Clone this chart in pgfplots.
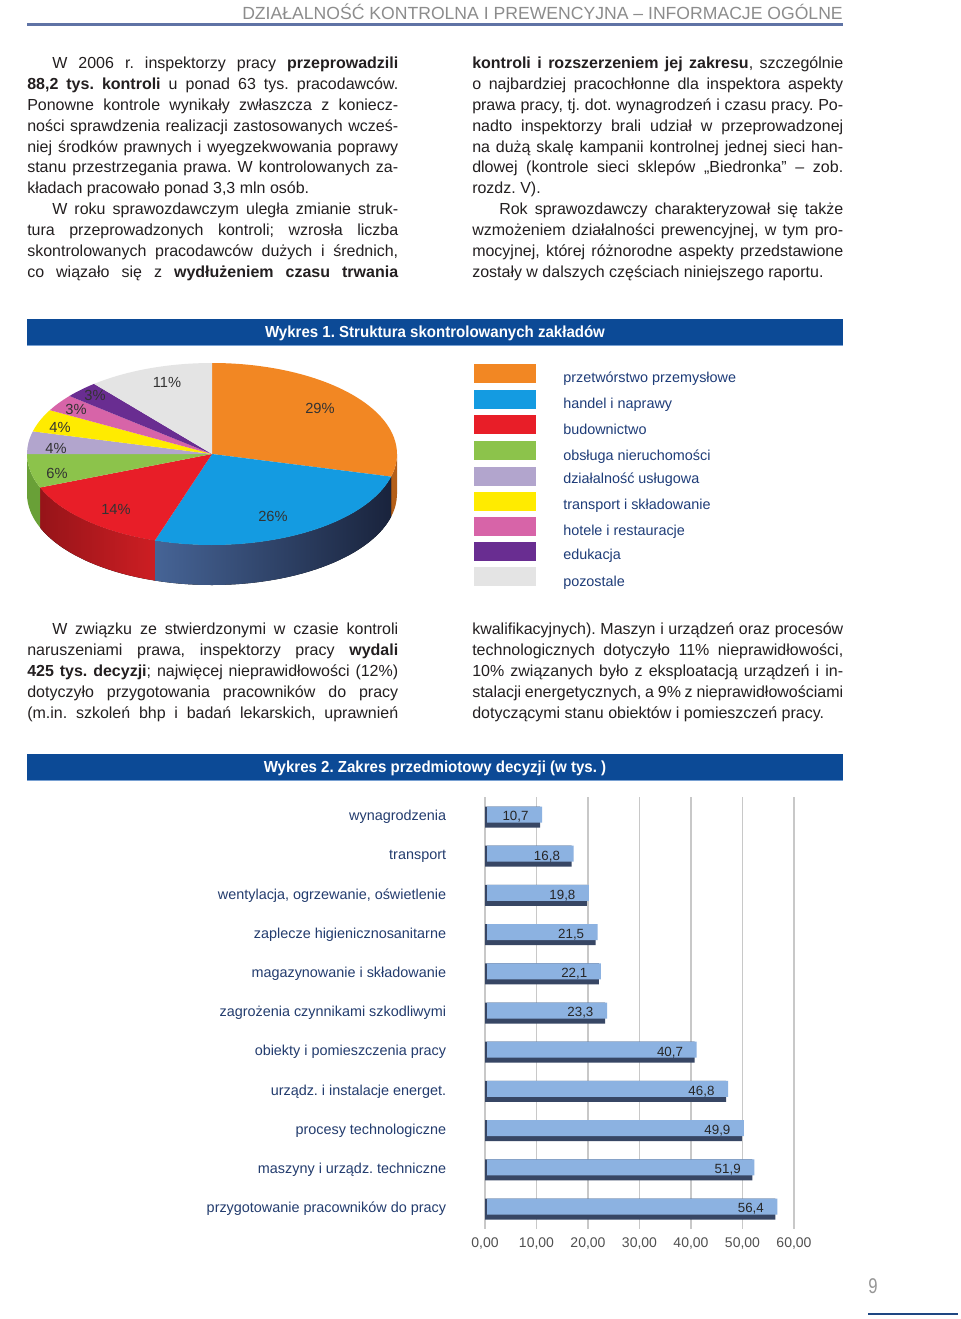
\documentclass[border=0pt]{standalone}
\usepackage{fontspec}
\setmainfont{Liberation Sans}
\newfontfamily\condfont[FakeStretch=0.94]{Liberation Sans}
\newfontfamily\numfont[FakeStretch=0.78]{Liberation Sans}
\usepackage{pgfplots}
\usepackage{pgfplotstable}
\pgfplotsset{compat=1.18}

\definecolor{bodyc}{RGB}{35,31,32}
\definecolor{headgray}{RGB}{140,140,140}
\definecolor{headline}{RGB}{95,115,165}
\definecolor{titlebg}{RGB}{12,74,150}
\definecolor{titleline}{RGB}{120,160,210}
\definecolor{legtext}{RGB}{30,60,120}
\definecolor{catc}{RGB}{35,60,110}
\definecolor{tickc}{RGB}{80,80,80}
\definecolor{gridc}{RGB}{200,200,200}
\definecolor{pieorange}{RGB}{242,135,35}
\definecolor{pieblue}{RGB}{20,155,225}
\definecolor{piered}{RGB}{232,30,40}
\definecolor{piegreen}{RGB}{140,195,75}
\definecolor{pielav}{RGB}{178,165,205}
\definecolor{pieyel}{RGB}{255,235,0}
\definecolor{piepink}{RGB}{215,100,168}
\definecolor{piepurple}{RGB}{105,45,145}
\definecolor{piegray}{RGB}{228,228,228}
\definecolor{sideorange}{RGB}{180,95,25}
\definecolor{sidebluel}{RGB}{70,100,150}
\definecolor{sidebluer}{RGB}{25,35,60}
\definecolor{sideredl}{RGB}{205,30,35}
\definecolor{sideredr}{RGB}{150,20,25}
\definecolor{sidegreen}{RGB}{105,160,55}
\definecolor{barlight}{RGB}{140,178,225}
\definecolor{bardark}{RGB}{55,70,100}
\definecolor{pagenum}{RGB}{150,150,150}
\definecolor{pageline}{RGB}{30,70,130}

\pgfplotstableread{
y v
0 56.4
1 51.9
2 49.9
3 46.8
4 40.7
5 23.3
6 22.1
7 21.5
8 19.8
9 16.8
10 10.7
}\bardata

\newcommand\bodyfont{\fontsize{12}{14}\selectfont}
\newcommand\JL[4]{\node[anchor=base west,inner sep=0pt,font=\bodyfont,text=bodyc] at (#1,-#2) {\makebox[#3pt][s]{#4}};}
\newcommand\LL[3]{\node[anchor=base west,inner sep=0pt,font=\bodyfont,text=bodyc] at (#1,-#2) {#3};}

% pie slices: start percent, percent, colour
\newcommand\pietop[3]{%
  \pgfmathsetmacro\pa{90-3.6*#1}%
  \pgfmathsetmacro\pb{90-3.6*(#1+#2)}%
  \edef\tmp{\noexpand\fill[#3] (axis cs:0,0) -- (axis cs:{cos(\pa)},{sin(\pa)}) arc[start angle=\pa, end angle=\pb, x radius=138.75pt, y radius=68.25pt] -- cycle;}%
  \tmp}
\newcommand\pieside[3]{%
  \pgfmathsetmacro\pa{min(90-3.6*#1,0)}%
  \pgfmathsetmacro\pb{max(90-3.6*(#1+#2),-180)}%
  \edef\tmp{\noexpand\fill[#3] (axis cs:{cos(\pa)},{sin(\pa)}) arc[start angle=\pa, end angle=\pb, x radius=138.75pt, y radius=68.25pt] -- ++(0pt,-30pt) arc[start angle=\pb, end angle=\pa, x radius=138.75pt, y radius=68.25pt] -- cycle;}%
  \tmp}

\newcommand\legrow[4]{% square centre, text baseline, colour, text
  \fill[#3] (474,{9.5-#1}) rectangle (536,{-9.5-#1});
  \node[anchor=base west,inner sep=0pt,font=\fontsize{10.8}{12}\selectfont,text=legtext] at (563,-#2) {#4};}

\newcommand\pielab[3]{\node[inner sep=0pt,font=\fontsize{11}{12}\selectfont,text=black!80] at (#1,-#2) {#3};}

\begin{document}
\frenchspacing
\begin{tikzpicture}[x=0.75pt,y=0.75pt]
\useasboundingbox (0,0) rectangle (960,-1319);
\fill[white] (0,0) rectangle (960,-1319);

% header
\node[anchor=base east,inner sep=0pt,font=\fontsize{13.2}{15}\selectfont,text=headgray] at (843,-19.5) {DZIAŁALNOŚĆ KONTROLNA I PREWENCYJNA – INFORMACJE OGÓLNE};
\draw[headline,line width=1.6pt] (27,-24.5) -- (843,-24.5);

% top text, left column
\JL{52}{69}{259.5}{W 2006 r. inspektorzy pracy \textbf{przeprowadzili}}
\JL{27}{89.8}{278.25}{\textbf{88,2 tys. kontroli} u ponad 63 tys. pracodawców.}
\JL{27}{110.6}{278.25}{Ponowne kontrole wynikały zwłaszcza z koniecz-}
\JL{27}{131.4}{278.25}{ności sprawdzenia realizacji zastosowanych wcześ-}
\JL{27}{152.2}{278.25}{niej środków prawnych i wyegzekwowania poprawy}
\JL{27}{173}{278.25}{stanu przestrzegania prawa. W kontrolowanych za-}
\LL{27}{193.8}{kładach pracowało ponad 3,3 mln osób.}
\JL{52}{214.6}{259.5}{W roku sprawozdawczym uległa zmianie struk-}
\JL{27}{235.4}{278.25}{tura przeprowadzonych kontroli; wzrosła liczba}
\JL{27}{256.2}{278.25}{skontrolowanych pracodawców dużych i średnich,}
\JL{27}{277}{278.25}{co wiązało się z \textbf{wydłużeniem czasu trwania}}

% top text, right column
\JL{472}{69}{278.25}{\textbf{kontroli i rozszerzeniem jej zakresu}, szczególnie}
\JL{472}{89.8}{278.25}{o najbardziej pracochłonne dla inspektora aspekty}
\JL{472}{110.6}{278.25}{prawa pracy, tj. dot. wynagrodzeń i czasu pracy. Po-}
\JL{472}{131.4}{278.25}{nadto inspektorzy brali udział w przeprowadzonej}
\JL{472}{152.2}{278.25}{na dużą skalę kampanii kontrolnej jednej sieci han-}
\JL{472}{173}{278.25}{dlowej (kontrole sieci sklepów „Biedronka” – zob.}
\LL{472}{193.8}{rozdz. V).}
\JL{499}{214.6}{258}{Rok sprawozdawczy charakteryzował się także}
\JL{472}{235.4}{278.25}{wzmożeniem działalności prewencyjnej, w tym pro-}
\JL{472}{256.2}{278.25}{mocyjnej, której różnorodne aspekty przedstawione}
\LL{472}{277}{zostały w dalszych częściach niniejszego raportu.}

% title bar 1
\fill[titlebg] (27,-319) rectangle (843,-345);
\draw[titleline,line width=0.75pt] (27,-345) -- (843,-345);
\node[anchor=base,inner sep=0pt,font=\condfont\bfseries\fontsize{12}{14}\selectfont,text=white] at (435,-337.5) {Wykres 1. Struktura skontrolowanych zakładów};

% pie chart
\coordinate (piec) at (212,-454);
\begin{axis}[at={(piec)},anchor=center,scale only axis,width=277.5pt,height=136.5pt,
  xmin=-1,xmax=1,ymin=-1,ymax=1,hide axis,clip=false]
  \addplot[draw=none] coordinates {(0,0)};
  \pieside{0}{29}{sideorange}
  \pieside{29}{26}{left color=sidebluel,right color=sidebluer}
  \pieside{55}{14}{left color=sideredr,right color=sideredl}
  \pieside{69}{6}{sidegreen}
  \pietop{0}{29}{pieorange}
  \pietop{29}{26}{pieblue}
  \pietop{55}{14}{piered}
  \pietop{69}{6}{piegreen}
  \pietop{75}{4}{pielav}
  \pietop{79}{4}{pieyel}
  \pietop{83}{3}{piepink}
  \pietop{86}{3}{piepurple}
  \pietop{89}{11}{piegray}
\end{axis}
\pielab{320}{408}{29\%}
\pielab{273}{516}{26\%}
\pielab{116}{509}{14\%}
\pielab{57}{473}{6\%}
\pielab{56}{448}{4\%}
\pielab{60}{427}{4\%}
\pielab{76}{409}{3\%}
\pielab{95}{395}{3\%}
\pielab{167}{382}{11\%}

% legend
\legrow{373}{382.5}{pieorange}{przetwórstwo przemysłowe}
\legrow{399}{408.5}{pieblue}{handel i naprawy}
\legrow{424}{434.5}{piered}{budownictwo}
\legrow{450}{460.5}{piegreen}{obsługa nieruchomości}
\legrow{476}{483.5}{pielav}{działalność usługowa}
\legrow{501}{509.5}{pieyel}{transport i składowanie}
\legrow{526}{535.5}{piepink}{hotele i restauracje}
\legrow{551}{559.5}{piepurple}{edukacja}
\legrow{576}{586.5}{piegray}{pozostale}

% middle text
\JL{52}{634}{259.5}{W związku ze stwierdzonymi w czasie kontroli}
\JL{27}{655}{278.25}{naruszeniami prawa, inspektorzy pracy \textbf{wydali}}
\JL{27}{676}{278.25}{\textbf{425 tys. decyzji}; najwięcej nieprawidłowości (12\%)}
\JL{27}{697}{278.25}{dotyczyło przygotowania pracowników do pracy}
\JL{27}{718}{278.25}{(m.in. szkoleń bhp i badań lekarskich, uprawnień}
\JL{472}{634}{278.25}{kwalifikacyjnych). Maszyn i urządzeń oraz procesów}
\JL{472}{655}{278.25}{technologicznych dotyczyło 11\% nieprawidłowości,}
\JL{472}{676}{278.25}{10\% związanych było z eksploatacją urządzeń i in-}
\JL{472}{697}{278.25}{stalacji energetycznych, a 9\% z nieprawidłowościami}
\LL{472}{718}{dotyczącymi stanu obiektów i pomieszczeń pracy.}

% title bar 2
\fill[titlebg] (27,-754) rectangle (843,-780);
\draw[titleline,line width=0.75pt] (27,-780) -- (843,-780);
\node[anchor=base,inner sep=0pt,font=\condfont\bfseries\fontsize{12}{14}\selectfont,text=white] at (435,-772.5) {Wykres 2. Zakres przedmiotowy decyzji (w tys. )};

% bar chart
\coordinate (barsw) at (485,-1228.6);
\begin{axis}[at={(barsw)},anchor=south west,scale only axis,
  width=231.75pt,height=323.4pt,
  xmin=0,xmax=60,ymin=-0.5,ymax=10.5,
  xtick={0,10,20,30,40,50,60},
  xticklabels={{0,00},{10,00},{20,00},{30,00},{40,00},{50,00},{60,00}},
  ytick={0,1,2,3,4,5,6,7,8,9,10},
  yticklabels={przygotowanie pracowników do pracy,maszyny i urządz. techniczne,procesy technologiczne,urządz. i instalacje energet.,obiekty i pomieszczenia pracy,zagrożenia czynnikami szkodliwymi,magazynowanie i składowanie,zaplecze higienicznosanitarne,{wentylacja, ogrzewanie, oświetlenie},transport,wynagrodzenia},
  xmajorgrids,major grid style={draw=gridc,line width=0.9pt},
  axis line style={draw=none},tick style={draw=none},
  xticklabel style={font=\fontsize{10.5}{12}\selectfont,text=tickc,inner sep=0pt,anchor=base,yshift=-14pt},
  yticklabel style={font=\fontsize{10.8}{12}\selectfont,text=catc,inner sep=0pt,anchor=east,xshift=-29pt},
  clip=false]
  \addplot[xbar,bar shift=0pt,bar width=15.75pt,fill=bardark,draw=none] table[x=v,y=y]{\bardata};
  \addplot[xbar,bar shift=1.875pt,bar width=12pt,fill=barlight,draw=none,xshift=1.5pt,
    point meta=x,
    nodes near coords={\pgfmathprintnumber[fixed,fixed zerofill,precision=1,use comma,assume math mode=true]{\pgfplotspointmeta}},
    nodes near coords align={left},
    every node near coord/.append style={font=\fontsize{10}{12}\selectfont,text=black!85,inner sep=0pt,anchor=east,xshift=-10pt}]
    table[x=v,y=y]{\bardata};
\end{axis}

% page number
\node[anchor=base west,inner sep=0pt,font=\numfont\fontsize{16}{18}\selectfont,text=pagenum] at (868,-1293) {9};
\draw[pageline,line width=1.8pt] (868,-1314) -- (958,-1314);
\end{tikzpicture}
\end{document}
